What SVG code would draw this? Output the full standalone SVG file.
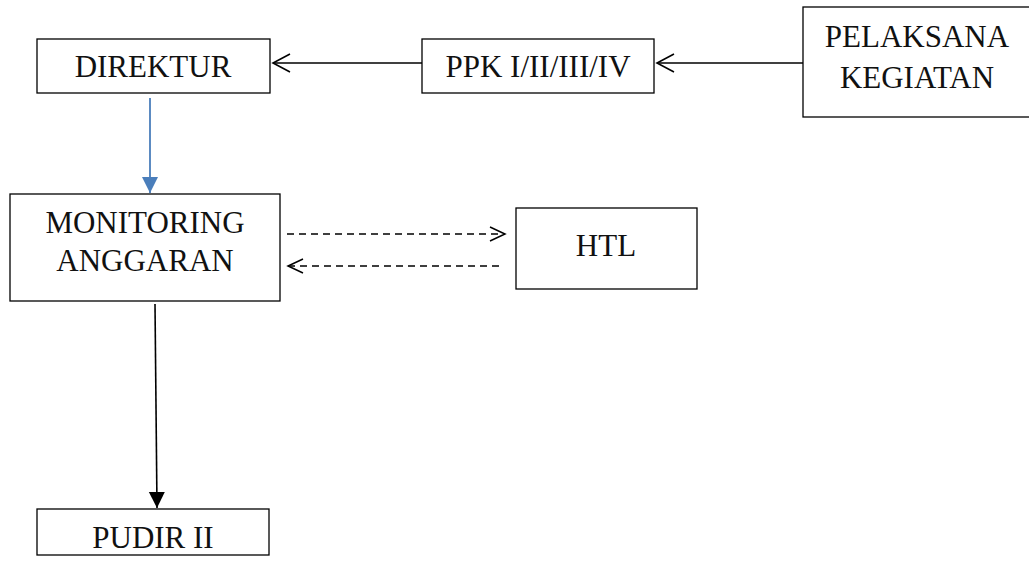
<svg xmlns="http://www.w3.org/2000/svg" width="1029" height="565" viewBox="0 0 1029 565">
  <style>
    .box { fill: #ffffff; stroke: #000000; stroke-width: 1.3; }
    .lbl { font-family: "Liberation Serif", "Times New Roman", serif; font-size: 31px; fill: #111111; text-anchor: middle; }
    .line { fill: none; stroke: #000000; stroke-width: 1.6; }
    .dash { fill: none; stroke: #000000; stroke-width: 1.5; stroke-dasharray: 7 5; }
    .blue { fill: none; stroke: #4a7ebb; stroke-width: 1.8; }
  </style>
  <defs>
    <marker id="open" markerUnits="userSpaceOnUse" markerWidth="22" markerHeight="22" viewBox="0 0 22 22" refX="19" refY="11" orient="auto">
      <path d="M2,2 L19,11 L2,20" fill="none" stroke="#000" stroke-width="1.6"/>
    </marker>
    <marker id="openSmall" markerUnits="userSpaceOnUse" markerWidth="20" markerHeight="20" viewBox="0 0 20 20" refX="17" refY="10" orient="auto">
      <path d="M2,3 L17,10 L2,17" fill="none" stroke="#000" stroke-width="1.5"/>
    </marker>
    <marker id="solidBlue" markerUnits="userSpaceOnUse" markerWidth="18" markerHeight="18" viewBox="0 0 18 18" refX="16" refY="9" orient="auto">
      <path d="M0,1 L16,9 L0,17 Z" fill="#4a7ebb"/>
    </marker>
    <marker id="solidBlack" markerUnits="userSpaceOnUse" markerWidth="18" markerHeight="18" viewBox="0 0 18 18" refX="16" refY="9" orient="auto">
      <path d="M0,1 L16,9 L0,17 Z" fill="#000"/>
    </marker>
  </defs>

  <rect width="1029" height="565" fill="#ffffff"/>

  <!-- connectors -->
  <g id="connectors">
    <line class="line" x1="805" y1="63" x2="657" y2="63" marker-end="url(#open)"/>
    <line class="line" x1="422" y1="63" x2="273" y2="63" marker-end="url(#open)"/>
    <line class="blue" x1="150" y1="98" x2="150" y2="193" marker-end="url(#solidBlue)"/>
    <line class="dash" x1="287" y1="234" x2="505" y2="234" marker-end="url(#openSmall)"/>
    <line class="dash" x1="499" y1="266" x2="288" y2="266" marker-end="url(#openSmall)"/>
    <line class="line" x1="155" y1="304" x2="157" y2="508" marker-end="url(#solidBlack)"/>
  </g>

  <!-- nodes -->
  <g id="direktur">
    <rect class="box" x="37" y="39" width="233" height="54"/>
    <text class="lbl" x="153" y="77">DIREKTUR</text>
  </g>
  <g id="ppk">
    <rect class="box" x="422" y="39" width="232" height="54"/>
    <text class="lbl" x="538" y="77">PPK I/II/III/IV</text>
  </g>
  <g id="pelaksana">
    <rect class="box" x="803" y="7" width="240" height="110"/>
    <text class="lbl" x="917" y="47">PELAKSANA</text>
    <text class="lbl" x="917" y="88">KEGIATAN</text>
  </g>
  <g id="monitoring">
    <rect class="box" x="10" y="194" width="270" height="107"/>
    <text class="lbl" x="145" y="233">MONITORING</text>
    <text class="lbl" x="145" y="271">ANGGARAN</text>
  </g>
  <g id="htl">
    <rect class="box" x="516" y="208" width="181" height="81"/>
    <text class="lbl" x="606" y="256">HTL</text>
  </g>
  <g id="pudir">
    <rect class="box" x="37" y="509" width="232" height="46"/>
    <text class="lbl" x="153" y="548">PUDIR II</text>
  </g>
</svg>
